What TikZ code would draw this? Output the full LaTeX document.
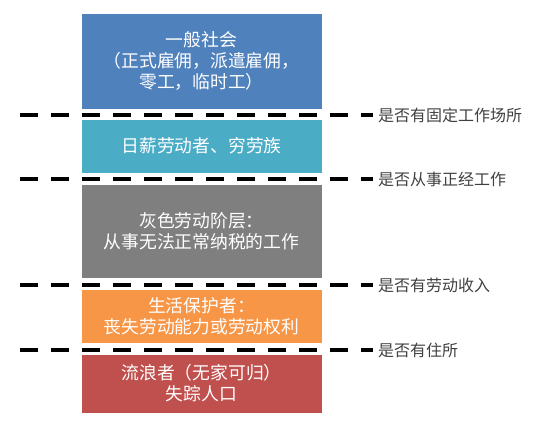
\documentclass[tikz,border=0pt]{standalone}
\usepackage{fontspec}
\newfontfamily\cjk{Noto Sans CJK SC}
\usetikzlibrary{shadows}
\definecolor{boxblue}{HTML}{4F81BD}
\definecolor{boxteal}{HTML}{4BACC6}
\definecolor{boxgray}{HTML}{7F7F7F}
\definecolor{boxorange}{HTML}{F79646}
\definecolor{boxred}{HTML}{C0504D}
\definecolor{labgray}{HTML}{404040}

\begin{document}
\begin{tikzpicture}[x=1pt,y=-1pt,
  tier/.style={rectangle,draw=white,line width=0.8pt,minimum width=241pt,
    inner sep=2pt,align=center,text=white,
    font=\cjk\fontsize{17.8}{21}\selectfont,
    drop shadow={opacity=0.3,shadow xshift=0.8pt,shadow yshift=-1.2pt}},
  lab/.style={anchor=west,inner sep=0pt,text=labgray,
    font=\cjk\fontsize{16}{18}\selectfont},
  sep/.style={line width=4pt,dash pattern=on 17.5pt off 13.5pt}]
  \useasboundingbox (0,0) rectangle (536,428);
  % tiers
  \node[tier,fill=boxblue,minimum height=96pt]   (t1) at (201.5,61)    {一般社会\\（正式雇佣，派遣雇佣，\\零工，临时工）};
  \node[tier,fill=boxteal,minimum height=54pt]   (t2) at (201.5,146)   {日薪劳动者、穷劳族};
  \node[tier,fill=boxgray,minimum height=94pt]   (t3) at (201.5,231)   {灰色劳动阶层：\\从事无法正常纳税的工作};
  \node[tier,fill=boxorange,minimum height=54pt] (t4) at (201.5,316)   {生活保护者：\\丧失劳动能力或劳动权利};
  \node[tier,fill=boxred,minimum height=59pt]    (t5) at (201.5,383.5) {流浪者（无家可归）\\失踪人口};
  % questions
  \node[lab] (q1) at (378,115) {是否有固定工作场所};
  \node[lab] (q2) at (378,179) {是否从事正经工作};
  \node[lab] (q3) at (378,285) {是否有劳动收入};
  \node[lab] (q4) at (378,350) {是否有住所};
  \coordinate (s1) at (20,115);
  \coordinate (s2) at (20,179);
  \coordinate (s3) at (20,285);
  \coordinate (s4) at (20,350);
  \draw[sep] (s1) -- ([xshift=-5pt]q1.west);
  \draw[sep] (s2) -- ([xshift=-5pt]q2.west);
  \draw[sep] (s3) -- ([xshift=-5pt]q3.west);
  \draw[sep] (s4) -- ([xshift=-5pt]q4.west);
\end{tikzpicture}
\end{document}
